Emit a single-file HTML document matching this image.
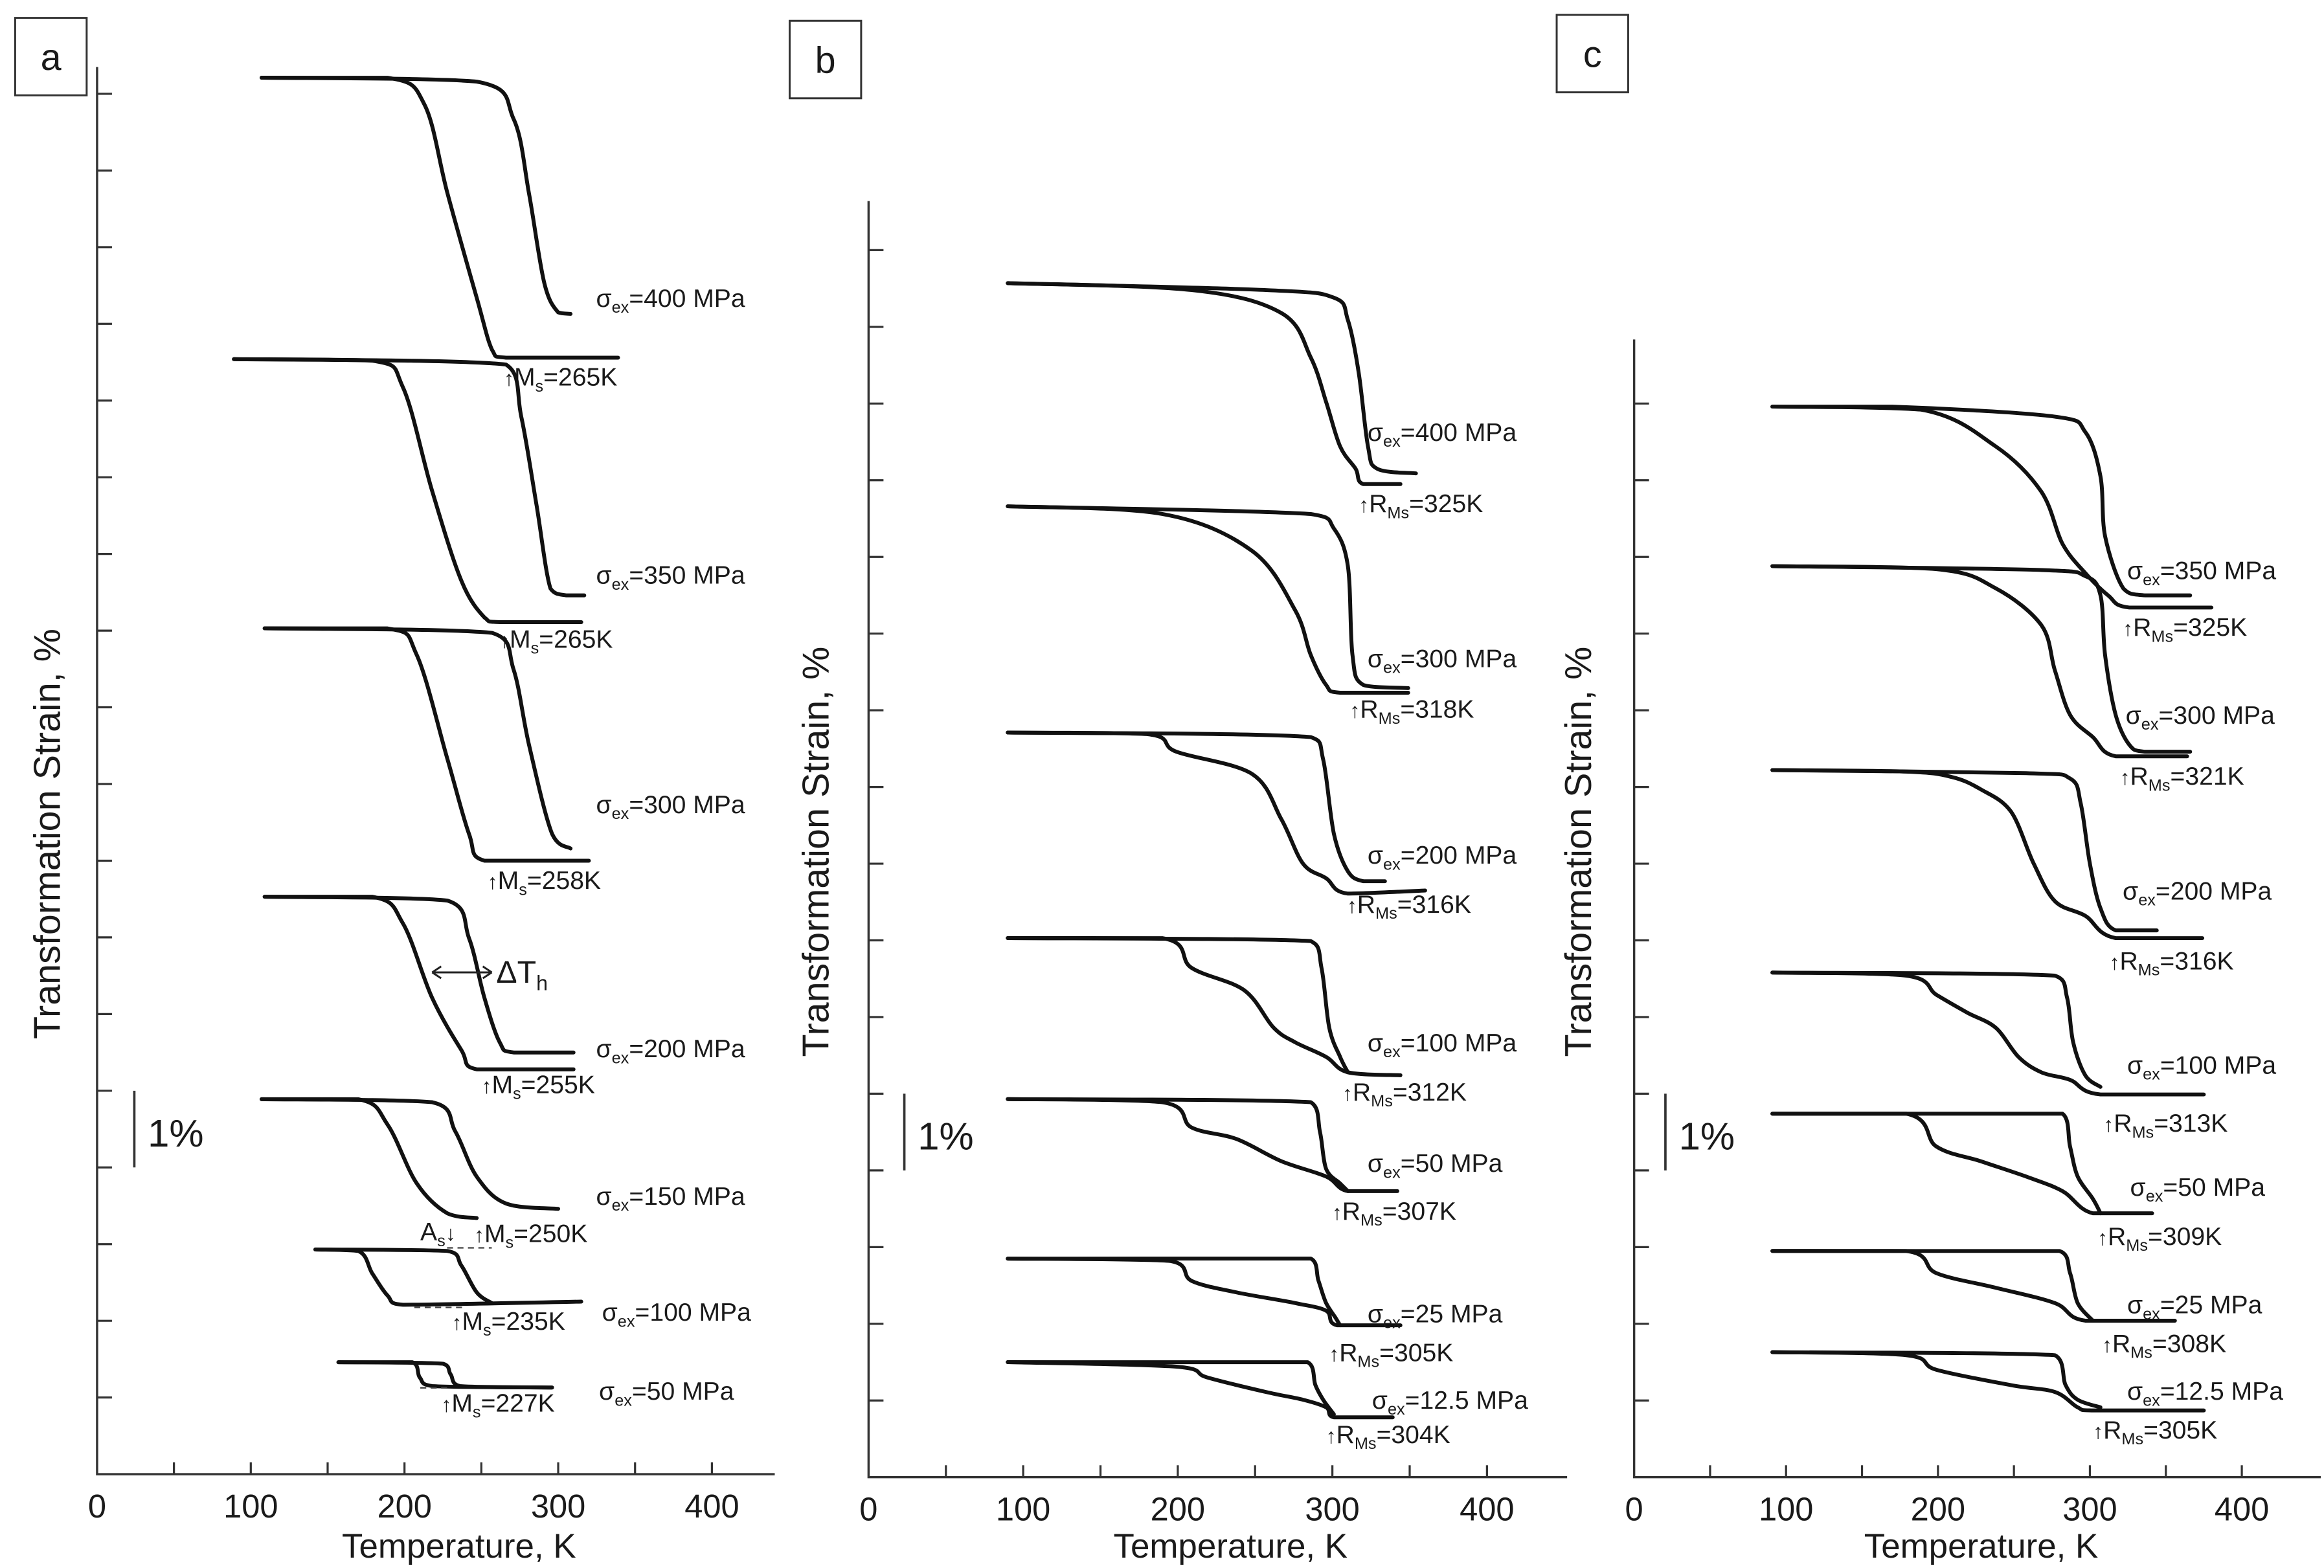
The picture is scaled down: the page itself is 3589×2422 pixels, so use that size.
<!DOCTYPE html>
<html><head><meta charset="utf-8"><style>
html,body{margin:0;padding:0;background:#fff}
svg{display:block}
text{font-family:"Liberation Sans",Arial,sans-serif;fill:#1a1a1a}
</style></head><body>
<svg id="chart" width="3589" height="2422" viewBox="0 0 1560 1053" xmlns="http://www.w3.org/2000/svg"></svg>
<script>
// ---- data (T in K, strain in %) ----
const panelLetters = ["a","b","c"];
const xTickLabels = [0,100,200,300,400];
const aStresses = ["400","350","300","200","150","100","50"];
const aMs = ["265","265","258","255","250","235","227"];
const a400L=[[107,18.21],[189,18.21],[213,17.86],[228,16.70],[247,15.34],[257,14.66],[266,14.56],[339,14.56]];
const a400R=[[107,18.21],[247,18.16],[271,17.67],[281,16.70],[291,15.53],[300,15.15],[308,15.13]];
const a350L=[[89,14.54],[179,14.52],[199,14.17],[218,12.82],[237,11.65],[252,11.17],[262,11.11],[315,11.11]];
const a350R=[[89,14.54],[266,14.47],[276,13.79],[286,12.62],[295,11.55],[305,11.46],[317,11.46]];
const a300L=[[109,11.03],[189,11.03],[208,10.68],[228,9.32],[242,8.35],[252,8.0],[320,8.0]];
const a300R=[[109,11.03],[257,10.97],[271,10.49],[281,9.51],[296,8.35],[308,8.16]];
const a200L=[[109,7.53],[179,7.53],[199,7.18],[218,6.21],[237,5.53],[247,5.28],[310,5.28]];
const a200R=[[109,7.53],[228,7.48],[242,6.99],[252,6.21],[262,5.63],[271,5.50],[310,5.50]];
const a150L=[[107,4.89],[170,4.89],[189,4.56],[208,3.79],[228,3.40],[247,3.34]];
const a150R=[[107,4.89],[218,4.85],[233,4.47],[247,3.88],[266,3.53],[300,3.46]];
const a100L=[[142,2.93],[170,2.91],[179,2.62],[189,2.33],[199,2.21],[315,2.25]];
const a100R=[[142,2.93],[228,2.91],[237,2.72],[247,2.37],[257,2.23]];
const a50L=[[157,1.46],[205,1.46],[210,1.26],[218,1.15],[296,1.13]];
const a50R=[[157,1.46],[225,1.44],[230,1.30],[236,1.15],[296,1.13]];
const bStresses = ["400","300","200","100","50","25","12.5"];
const bRMs = ["325","318","316","312","307","305","304"];
const b400L=[[90,15.57],[209,15.48],[267,15.18],[286,14.60],[296,14.02],[305,13.44],[315,13.15],[320,12.95],[344,12.95]];
const b400R=[[90,15.57],[257,15.48],[301,15.38],[310,15.09],[317,14.41],[323,13.44],[329,13.15],[354,13.09]];
const b300L=[[90,12.66],[190,12.56],[248,12.08],[276,11.30],[286,10.72],[296,10.33],[305,10.23],[349,10.23]];
const b300R=[[90,12.66],[286,12.56],[301,12.37],[310,11.88],[313,10.72],[320,10.33],[349,10.29]];
const b200L=[[90,9.71],[180,9.69],[199,9.46],[248,9.17],[267,8.58],[281,8.0],[296,7.81],[310,7.61],[360,7.65]];
const b200R=[[90,9.71],[286,9.65],[294,9.36],[301,8.39],[310,7.90],[320,7.77],[334,7.77]];
const b100L=[[90,7.03],[190,7.03],[209,6.64],[243,6.35],[262,5.86],[276,5.67],[296,5.48],[310,5.28],[344,5.24]];
const b100R=[[90,7.03],[286,6.99],[293,6.64],[298,5.86],[305,5.48],[310,5.28]];
const b50L=[[90,4.93],[190,4.89],[209,4.56],[238,4.41],[267,4.12],[296,3.92],[310,3.73],[342,3.73]];
const b50R=[[90,4.93],[286,4.89],[292,4.50],[296,4.02],[305,3.83],[310,3.73]];
const b25L=[[90,2.85],[195,2.82],[209,2.56],[238,2.41],[276,2.27],[296,2.17],[303,1.98],[344,1.98]];
const b25R=[[90,2.85],[286,2.85],[291,2.56],[296,2.27],[302,2.08],[305,1.98]];
const b12L=[[90,1.50],[199,1.44],[219,1.30],[257,1.11],[281,1.01],[296,0.91],[301,0.78],[339,0.78]];
const b12R=[[90,1.50],[284,1.50],[289,1.20],[294,1.01],[301,0.82]];
const cStresses = ["350","300","200","100","50","25","12.5"];
const cRMs = ["325","321","316","313","309","308","305"];
const c350L=[[91,13.96],[189,13.92],[238,13.44],[268,12.85],[282,12.17],[297,11.79],[312,11.50],[326,11.34],[380,11.34]];
const c350R=[[91,13.96],[170,13.96],[277,13.83],[297,13.63],[307,13.05],[310,12.27],[322,11.59],[336,11.50],[366,11.50]];
const c300L=[[91,11.88],[199,11.84],[238,11.59],[268,11.11],[277,10.52],[287,9.94],[302,9.65],[317,9.40],[364,9.40]];
const c300R=[[91,11.88],[268,11.83],[297,11.75],[307,11.50],[310,10.72],[317,9.94],[326,9.55],[336,9.46],[366,9.46]];
const c200L=[[91,9.22],[179,9.20],[209,9.13],[228,8.97],[248,8.68],[263,8.0],[277,7.51],[297,7.32],[317,7.03],[374,7.03]];
const c200R=[[91,9.22],[258,9.18],[287,9.11],[294,8.78],[300,8.0],[307,7.42],[317,7.13],[344,7.13]];
const c100L=[[91,6.58],[179,6.54],[199,6.29],[219,6.06],[238,5.86],[253,5.48],[268,5.28],[287,5.18],[307,4.99],[375,4.99]];
const c100R=[[91,6.58],[277,6.54],[285,6.25],[289,5.67],[297,5.24],[307,5.09]];
const c50L=[[91,4.74],[179,4.74],[199,4.31],[228,4.12],[258,3.92],[282,3.73],[302,3.44],[341,3.44]];
const c50R=[[91,4.74],[282,4.74],[287,4.31],[292,3.92],[302,3.63],[307,3.44]];
const c25L=[[91,2.95],[179,2.95],[199,2.66],[238,2.47],[277,2.27],[297,2.04],[356,2.04]];
const c25R=[[91,2.95],[280,2.95],[287,2.66],[292,2.27],[302,2.04]];
const c12L=[[91,1.63],[179,1.59],[199,1.40],[248,1.20],[277,1.11],[292,0.91],[302,0.87],[375,0.87]];
const c12R=[[91,1.63],[277,1.59],[284,1.20],[292,1.01],[307,0.91]];

const NS="http://www.w3.org/2000/svg";
const svg=document.getElementById('chart');
function mk(tag,attrs,parent){const e=document.createElementNS(NS,tag);for(const k in attrs)e.setAttribute(k,attrs[k]);(parent||svg).appendChild(e);return e;}

const panels=[
 {x0:65,y0:990,kx:1.032,ky:51.5,xEnd:520,yTop:45,nY:18,
  loops:[[a400L,a400R],[a350L,a350R],[a300L,a300R],[a200L,a200R],[a150L,a150R],[a100L,a100R],[a50L,a50R]],
  stress:aStresses,ms:aMs,sub:"s",
  sPos:[[400,206],[400,392],[400,546],[400,710],[400,809],[404,887],[402,940]],
  mPos:[[338,259],[335,435],[327,597],[323,734],[318,834],[303,893],[296,948]],
  box:[10,12],bar:90,title:[32,560],xt:308},
 {x0:583,y0:992,kx:1.038,ky:51.5,xEnd:1052,yTop:135,nY:16,
  loops:[[b400L,b400R],[b300L,b300R],[b200L,b200R],[b100L,b100R],[b50L,b50R],[b25L,b25R],[b12L,b12R]],
  stress:bStresses,ms:bRMs,sub:"Ms",
  sPos:[[918,296],[918,448],[918,580],[918,706],[918,787],[918,888],[921,946]],
  mPos:[[912,344],[906,482],[904,613],[901,739],[894,819],[892,914],[890,969]],
  box:[530,14],bar:607,title:[548,572],xt:826},
 {x0:1097,y0:992,kx:1.02,ky:51.5,xEnd:1558,yTop:228,nY:14,
  loops:[[c350L,c350R],[c300L,c300R],[c200L,c200R],[c100L,c100R],[c50L,c50R],[c25L,c25R],[c12L,c12R]],
  stress:cStresses,ms:cRMs,sub:"Ms",
  sPos:[[1428,389],[1427,486],[1425,604],[1428,721],[1430,803],[1428,882],[1428,940]],
  mPos:[[1425,427],[1423,527],[1416,651],[1412,760],[1408,836],[1411,908],[1405,966]],
  box:[1045,10],bar:1118,title:[1060,572],xt:1330}
];

function clamp(v,a,b){const lo=Math.min(a,b),hi=Math.max(a,b);return Math.max(lo,Math.min(hi,v));}
function smooth(pts){
  let d="M"+pts[0][0]+","+pts[0][1];
  for(let i=0;i<pts.length-1;i++){
    const p0=pts[i-1]||pts[i],p1=pts[i],p2=pts[i+1],p3=pts[i+2]||p2;
    const c1=[clamp(p1[0]+(p2[0]-p0[0])/6,p1[0],p2[0]),clamp(p1[1]+(p2[1]-p0[1])/6,p1[1],p2[1])];
    const c2=[clamp(p2[0]-(p3[0]-p1[0])/6,p1[0],p2[0]),clamp(p2[1]-(p3[1]-p1[1])/6,p1[1],p2[1])];
    d+=" C"+c1[0].toFixed(1)+","+c1[1].toFixed(1)+" "+c2[0].toFixed(1)+","+c2[1].toFixed(1)+" "+p2[0].toFixed(1)+","+p2[1].toFixed(1);
  }
  return d;
}

panels.forEach((p,pi)=>{
  const g=mk('g',{});
  
  
  const X=t=>p.x0+t*p.kx, Y=s=>p.y0-s*p.ky;
  const ax=mk('path',{d:`M${p.x0},${p.yTop} L${p.x0},${p.y0} L${p.xEnd},${p.y0}`,fill:'none',stroke:'#333','stroke-width':1.5},g);
  
  
  for(let i=1;i<=p.nY;i++){const t=mk('line',{x1:p.x0,x2:p.x0+10,y1:Y(i),y2:Y(i),stroke:'#333','stroke-width':1.4},g);
    
    }
  for(let v=50;v<=400;v+=50){const t=mk('line',{x1:X(v),x2:X(v),y1:p.y0,y2:p.y0-8,stroke:'#333','stroke-width':1.4},g);
    
    }
  xTickLabels.forEach(v=>{const t=mk('text',{x:X(v),y:p.y0+29,'font-size':22,'text-anchor':'middle'},g);t.textContent=v;
    
    });
  const xt=mk('text',{x:p.xt,y:1046,'font-size':23,'text-anchor':'middle'},g);xt.textContent="Temperature, K";
  
  
  const yt=mk('text',{x:0,y:0,'font-size':25,'text-anchor':'middle',transform:`translate(${p.title[0]+8},${p.title[1]}) rotate(-90)`},g);yt.textContent="Transformation Strain, %";
  
  
  const bx=mk('rect',{x:p.box[0],y:p.box[1],width:48,height:52,fill:'none',stroke:'#333','stroke-width':1.3},g);
  
  
  const bt=mk('text',{x:p.box[0]+24,y:p.box[1]+35,'font-size':25,'text-anchor':'middle'},g);bt.textContent=panelLetters[pi];
  
  
  const sb=mk('line',{x1:p.bar,x2:p.bar,y1:Y(5),y2:Y(4),stroke:'#333','stroke-width':1.6},g);
  
  
  const st=mk('text',{x:p.bar+9,y:Y(4)-14,'font-size':26},g);st.textContent="1%";
  
  
  p.loops.forEach((lp,li)=>{
    lp.forEach((c,ci)=>{
      const path=mk('path',{d:smooth(c.map(q=>[X(q[0]),Y(q[1])])),fill:'none',stroke:'#111','stroke-width':2.6,'stroke-linejoin':'round','stroke-linecap':'round'},g);
      
      
    });
    const sl=mk('text',{x:p.sPos[li][0],y:p.sPos[li][1],'font-size':17},g);
    
    
    sl.innerHTML=`σ<tspan font-size="11" dy="4">ex</tspan><tspan dy="-4">=${p.stress[li]} MPa</tspan>`;
    const ml=mk('text',{x:p.mPos[li][0],y:p.mPos[li][1],'font-size':17},g);
    
    
    ml.innerHTML=`<tspan font-size="14">↑</tspan>${p.sub==='s'?'M':'R'}<tspan font-size="11" dy="4">${p.sub}</tspan><tspan dy="-4">=${p.ms[li]}K</tspan>`;
  });
});
// panel a annotations
const dt=mk('text',{x:333,y:660,'font-size':21});


dt.innerHTML='ΔT<tspan font-size="14" dy="5">h</tspan>';
const arr=mk('path',{d:'M290,653 L330,653 M290,653 l6,-4 M290,653 l6,4 M330,653 l-6,-4 M330,653 l-6,4',stroke:'#222','stroke-width':1.3,fill:'none'});


const as=mk('text',{x:282,y:833,'font-size':17});


as.innerHTML='A<tspan font-size="11" dy="4">s</tspan><tspan dy="-4" font-size="14">↓</tspan>';
const d1=mk('line',{x1:278,x2:312,y1:878,y2:878,stroke:'#444','stroke-width':1,'stroke-dasharray':'4,3'});


const d2=mk('line',{x1:300,x2:330,y1:838,y2:838,stroke:'#444','stroke-width':1,'stroke-dasharray':'4,3'});


const d3=mk('line',{x1:282,x2:300,y1:932,y2:932,stroke:'#444','stroke-width':1,'stroke-dasharray':'4,3'});


</script>
</body></html>
